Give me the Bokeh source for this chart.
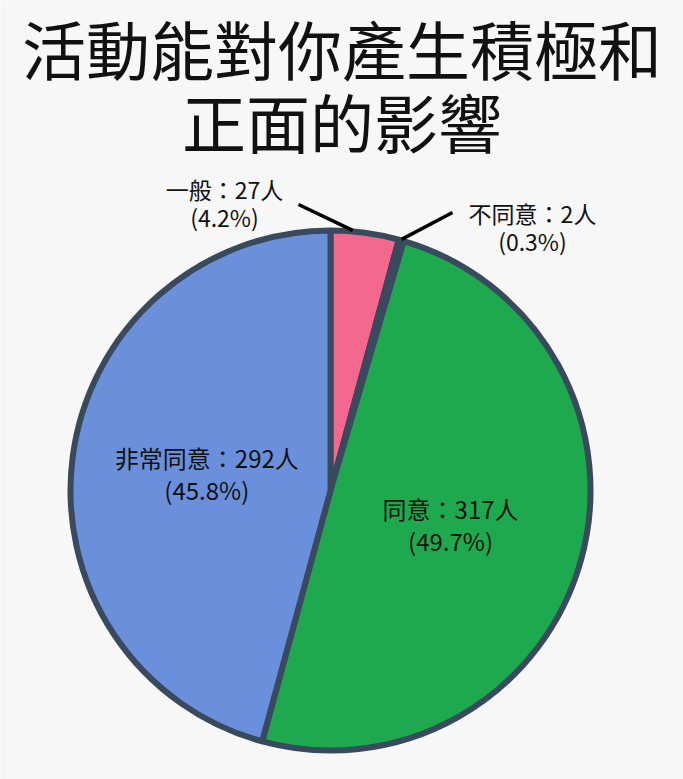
import math
from bokeh.plotting import figure
from bokeh.models import Range1d, Label
from bokeh.embed import file_html
from bokeh.resources import INLINE

# ---- data ----
title_lines = ["活動能對你產生積極和", "正面的影響"]
categories = ["一般", "不同意", "同意", "非常同意"]
counts = [27, 2, 317, 292]
colors = ["#f3688f", "#3a4a5e", "#1fa94f", "#6b90db"]

W, H = 683, 779
FONT = "Noto Sans CJK TC"
BG = "#f7f7f7"
TXT = "#111111"

p = figure(width=W, height=H, output_backend="svg", toolbar_location=None,
           x_range=Range1d(0, W), y_range=Range1d(H, 0), min_border=0,
           background_fill_color=BG, border_fill_color=BG, outline_line_color=None)
p.axis.visible = False
p.grid.visible = False

cx, cy, R = 330, 490, 260
total = sum(counts)
fracs = [c / total for c in counts]

# wedge angles are in screen orientation: start at 12 o'clock, go clockwise
cum = 0.0
starts, ends, mids = [], [], []
for f in fracs:
    a0 = math.pi / 2 - cum * 2 * math.pi
    a1 = math.pi / 2 - (cum + f) * 2 * math.pi
    starts.append(a0)
    ends.append(a1)
    mids.append((a0 + a1) / 2)
    cum += f

p.wedge(x=[cx] * 4, y=[cy] * 4, radius=R, start_angle=starts, end_angle=ends,
        direction="clock", fill_color=colors, line_color="#3a4a5e", line_width=6)

def pos(angle, r):
    # data y grows downward (flipped range)
    return cx + r * math.cos(angle), cy - r * math.sin(angle)

# title
for i, t in enumerate(title_lines):
    p.add_layout(Label(x=W / 2, y=46 + i * 73, text=t, text_font=FONT,
                       text_font_size="64px", text_align="center",
                       text_baseline="middle", text_color=TXT))

def pct(f):
    return f"({f * 100:.1f}%)"

FS = "23px"

# inside labels for large slices
for i in (2, 3):
    lx, ly = pos(mids[i], 0.48 * R)
    p.add_layout(Label(x=lx, y=ly - 16, text=f"{categories[i]}：{counts[i]}人",
                       text_font=FONT, text_font_size="24px", text_align="center",
                       text_baseline="middle", text_color=TXT))
    p.add_layout(Label(x=lx, y=ly + 16, text=pct(fracs[i]),
                       text_font=FONT, text_font_size="24px", text_align="center",
                       text_baseline="middle", text_color=TXT))

# outside labels with leader lines for small slices
# (label centre x, label centre y, leader start x, leader start y, angle shift)
outside = {0: (224, 202, 298, 204, 0.18), 1: (532, 226, 452, 212, 0.0)}
for i, (tx, ty, lx0, ly0, shift) in outside.items():
    ex, ey = pos(mids[i] + shift * (starts[i] - ends[i]), R + 1)
    p.line([lx0, ex], [ly0, ey], line_color="black", line_width=3.5)
    p.add_layout(Label(x=tx, y=ty - 14, text=f"{categories[i]}：{counts[i]}人",
                       text_font=FONT, text_font_size=FS, text_align="center",
                       text_baseline="middle", text_color=TXT))
    p.add_layout(Label(x=tx, y=ty + 14, text=pct(fracs[i]),
                       text_font=FONT, text_font_size=FS, text_align="center",
                       text_baseline="middle", text_color=TXT))

open("out.html", "w").write(file_html(p, INLINE))
